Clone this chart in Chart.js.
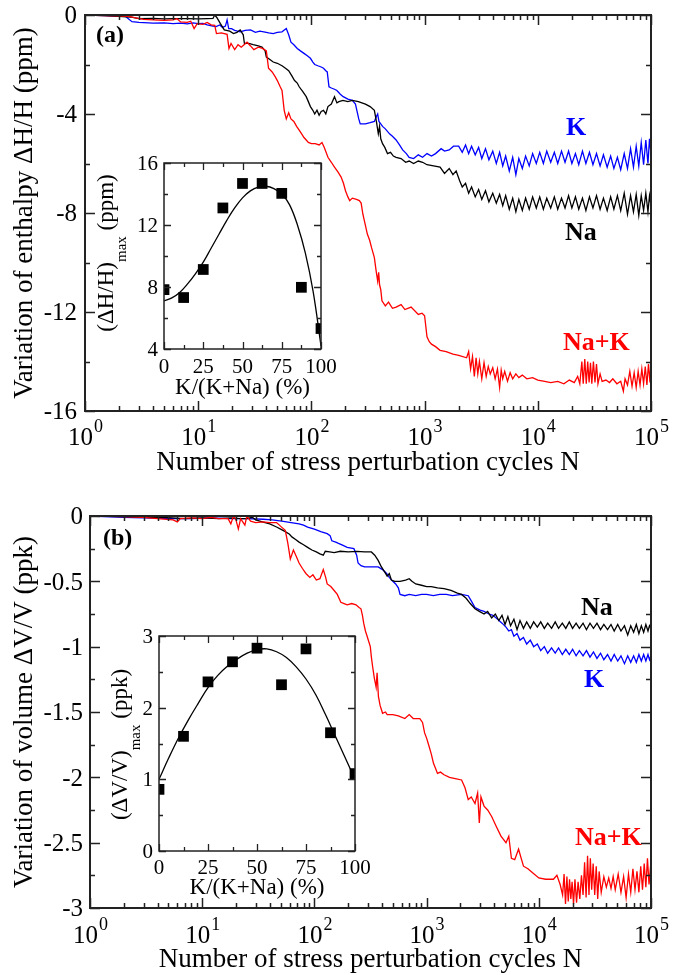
<!DOCTYPE html>
<html><head><meta charset="utf-8">
<script src="https://cdn.jsdelivr.net/npm/chart.js@4.4.1/dist/chart.umd.min.js"></script>
<style>
html,body{margin:0;padding:0;background:#fff;}
#wrap{position:relative;width:689px;height:975px;overflow:hidden;background:#fff;}
canvas{position:absolute;left:0;top:0;width:689px;height:975px;}
.warm{position:absolute;left:-9999px;top:0;font-family:"Liberation Serif";font-size:20px;}
.warmb{position:absolute;left:-9999px;top:30px;font-family:"Liberation Serif";font-weight:bold;font-size:20px;}
</style></head><body>
<span class="warm">Variation 0123456789 ΔH/H</span><span class="warmb">Na+K (a)</span>
<div id="wrap">
<canvas id="mainA" width="689" height="975"></canvas>
<canvas id="mainB" width="689" height="975"></canvas>
<canvas id="insetA" width="689" height="975"></canvas>
<canvas id="insetB" width="689" height="975"></canvas>
</div>
<script>
// ===== DATA =====
const seriesNames = ['Na', 'K', 'Na+K'];
const seriesColors = ['#000000', '#0000ff', '#ff0000'];
const xTickExponents = [0, 1, 2, 3, 4, 5];
const yTicksA = [0, -4, -8, -12, -16];
const yTickLabelsA = ['0', '-4', '-8', '-12', '-16'];
const yTicksB = [0, -0.5, -1, -1.5, -2, -2.5, -3];
const yTickLabelsB = ['0', '-0.5', '-1', '-1.5', '-2', '-2.5', '-3'];
const insetXTicks = [0, 25, 50, 75, 100];
const insetYTicksA = [4, 8, 12, 16];
const insetYTicksB = [0, 1, 2, 3];

// Panel (a): enthalpy variation (ppm) vs N
const enthalpyNa = [[1,0],[1.5,-0.02],[2,-0.05],[2.5,-0.08],[3,-0.15],[4,-0.14],[5,-0.16],[6,-0.15],[8,-0.15],[10,-0.16],[12,-0.15],[13.5,-0.14],[14,0.0],[14.6,-0.1],[15.7,-0.35],[17,-0.6],[19,-0.65],[20.5,-0.75],[22,-0.7],[23.5,-0.6],[25,-0.8],[25.6,-1.15],[28,-1.15],[30.6,-1.2],[34,-1.25],[36.6,-1.3],[39,-1.45],[40,-1.7],[43,-1.8],[46,-1.9],[50,-1.95],[55,-2.05],[59,-2.15],[63,-2.25],[67,-2.45],[71,-2.65],[75,-2.75],[78,-2.9],[84,-3.1],[90,-3.3],[94,-3.5],[98,-3.7],[103,-3.85],[107,-4.0],[112,-3.85],[117,-4.05],[122,-3.9],[128,-3.85],[134,-4.0],[140,-3.7],[150,-3.6],[160,-3.3],[168,-3.55],[175,-3.5],[190,-3.45],[210,-3.5],[230,-3.45],[260,-3.5],[300,-3.6],[330,-3.7],[360,-3.85],[375,-4.3],[390,-4.8],[400,-4.5],[410,-5.0],[425,-5.2],[445,-5.35],[470,-5.6],[500,-5.55],[530,-5.7],[560,-5.75],[620,-5.8],[680,-5.95],[730,-5.9],[800,-6.0],[880,-5.9],[960,-5.95],[1050,-6.05],[1200,-6.1],[1370,-6.15],[1500,-6.4],[1650,-6.2],[1780,-6.45],[1900,-6.3],[2040,-6.7],[2150,-6.95],[2300,-6.8],[2450,-7.2],[2600,-6.95],[2800,-7.35],[3000,-7.05],[3200,-7.45],[3450,-7.1],[3700,-7.55],[4000,-7.2],[4300,-7.6],[4600,-7.25],[4900,-7.7],[5200,-7.3],[5600,-7.85],[6000,-7.4],[6400,-7.95],[6800,-7.45],[7300,-7.9],[7800,-7.4],[8400,-7.85],[9000,-7.35],[9700,-7.8],[10400,-7.35],[11200,-7.85],[12000,-7.4],[13000,-7.8],[14000,-7.35],[15000,-7.85],[16200,-7.4],[17400,-7.8],[18700,-7.3],[20000,-7.8],[21500,-7.35],[23000,-7.85],[24800,-7.4],[26600,-7.9],[28600,-7.35],[30700,-7.8],[33000,-7.3],[35500,-7.85],[38000,-7.4],[41000,-7.9],[44000,-7.35],[47000,-7.85],[50500,-7.3],[54000,-7.9],[58000,-7.2],[62000,-8.05],[66000,-7.3],[70000,-7.95],[74000,-7.25],[78000,-8.1],[82000,-7.3],[86000,-7.9],[90000,-7.2],[94000,-7.95],[97000,-7.3],[100000,-7.7]];

const enthalpyK = [[1,0],[1.5,-0.02],[2,-0.05],[2.2,0.0],[2.6,-0.27],[3,-0.3],[4,-0.33],[5,-0.32],[6,-0.35],[7,-0.33],[8,-0.36],[9,-0.32],[10,-0.35],[11,-0.34],[12,-0.4],[13.5,-0.45],[14.4,-0.47],[15.5,-0.4],[16.4,-0.5],[17.4,-0.45],[18,-0.2],[18.6,-0.55],[19.7,-0.55],[21,-0.62],[23.5,-0.68],[26,-0.62],[29,-0.6],[32,-0.7],[35,-0.65],[38,-0.68],[42,-0.72],[46,-0.75],[50,-0.7],[55,-0.68],[58,-0.6],[60,-0.55],[63,-0.8],[66,-1.1],[70,-1.2],[75,-1.35],[80,-1.45],[86,-1.55],[92,-1.65],[98,-1.75],[103,-1.9],[107,-2.0],[114,-2.05],[122,-2.1],[128,-2.15],[134,-2.25],[138,-2.3],[143,-2.9],[150,-2.95],[160,-3.0],[168,-3.05],[180,-3.2],[191,-3.3],[210,-3.4],[230,-3.45],[245,-3.6],[252,-3.85],[262,-4.2],[270,-4.4],[285,-4.4],[300,-4.4],[330,-4.35],[360,-4.3],[375,-4.1],[385,-4.0],[395,-4.3],[410,-4.4],[425,-4.5],[450,-4.6],[490,-4.8],[520,-4.9],[560,-5.05],[600,-5.25],[640,-5.45],[690,-5.6],[730,-5.75],[800,-5.8],[880,-5.65],[960,-5.75],[1050,-5.6],[1150,-5.7],[1250,-5.6],[1400,-5.4],[1500,-5.5],[1650,-5.45],[1800,-5.3],[2000,-5.3],[2150,-5.55],[2300,-5.25],[2450,-5.6],[2600,-5.3],[2800,-5.65],[3000,-5.35],[3200,-5.8],[3450,-5.4],[3700,-5.85],[4000,-5.5],[4300,-6.0],[4600,-5.55],[4900,-6.1],[5200,-5.7],[5600,-6.3],[6000,-5.75],[6400,-6.45],[6800,-5.8],[7300,-6.2],[7800,-5.7],[8400,-6.1],[9000,-5.6],[9700,-6.0],[10400,-5.55],[11200,-6.0],[12000,-5.5],[13000,-5.95],[14000,-5.55],[15000,-6.0],[16200,-5.5],[17400,-5.95],[18700,-5.5],[20000,-6.0],[21500,-5.6],[23000,-6.05],[24800,-5.5],[26600,-6.0],[28600,-5.55],[30700,-6.05],[33000,-5.6],[35500,-6.1],[38000,-5.65],[41000,-6.15],[44000,-5.7],[47000,-6.2],[50500,-5.75],[54000,-6.25],[58000,-5.6],[62000,-6.2],[66000,-5.4],[70000,-6.15],[74000,-5.3],[78000,-6.1],[82000,-5.15],[86000,-6.05],[90000,-5.05],[94000,-6.0],[97000,-5.0],[100000,-5.6]];

const enthalpyNaK = [[1,0],[1.5,-0.02],[2,-0.03],[2.4,-0.05],[2.8,-0.12],[3.3,-0.18],[4,-0.2],[5,-0.22],[6,-0.2],[6.5,-0.15],[7,-0.28],[8,-0.3],[8.6,-0.25],[9.2,-0.55],[9.8,-0.35],[11,-0.38],[12,-0.3],[13,-0.4],[14,-0.42],[14.5,-0.75],[16,-0.72],[18,-0.78],[18.7,-1.35],[19.5,-1.15],[21,-1.4],[22.5,-1.2],[24,-1.3],[27,-1.1],[29,-1.25],[31,-1.4],[34,-1.3],[37,-1.35],[40,-1.45],[41.8,-2.15],[45,-2.3],[48,-2.5],[50,-2.65],[53,-2.9],[55,-3.05],[57.5,-3.85],[60,-4.2],[63,-3.95],[66,-4.2],[70,-4.3],[74,-4.5],[78,-4.65],[82,-4.8],[86,-4.95],[90,-5.05],[94,-5.15],[100,-5.2],[108,-5.2],[117,-5.25],[124,-5.15],[130,-5.35],[140,-5.75],[150,-5.95],[160,-6.15],[172,-6.35],[183,-6.55],[192,-6.8],[200,-7.1],[210,-7.35],[218,-7.5],[230,-7.4],[250,-7.45],[265,-7.5],[275,-7.6],[285,-8.05],[300,-8.5],[312,-8.85],[327,-9.1],[340,-9.4],[360,-9.8],[372,-10.3],[385,-10.75],[393,-10.4],[400,-10.9],[410,-11.1],[420,-11.55],[450,-11.75],[480,-11.6],[520,-11.85],[560,-11.8],[620,-11.7],[670,-11.9],[760,-11.8],[880,-12.1],[950,-12.05],[1000,-12.15],[1050,-13.0],[1100,-13.2],[1150,-13.3],[1250,-13.4],[1370,-13.55],[1550,-13.6],[1780,-13.7],[2000,-13.75],[2350,-13.85],[2450,-13.6],[2550,-14.3],[2650,-13.8],[2750,-14.6],[2850,-13.85],[2950,-14.5],[3050,-14.0],[3200,-14.7],[3350,-14.05],[3500,-14.6],[3650,-14.2],[3800,-14.5],[4000,-14.25],[4200,-14.7],[4400,-14.3],[4600,-15.05],[4750,-14.35],[4900,-14.7],[5100,-14.4],[5400,-14.8],[5700,-14.45],[6000,-14.7],[6400,-14.5],[6800,-14.65],[7300,-14.55],[8000,-14.7],[9000,-14.65],[10000,-14.75],[11500,-14.8],[13000,-14.85],[15000,-14.8],[17000,-14.9],[19000,-14.75],[21000,-14.85],[22500,-14.6],[23500,-14.9],[24500,-14.0],[25200,-14.9],[26000,-13.9],[26800,-14.9],[27600,-14.0],[28400,-14.85],[29200,-14.05],[30000,-14.9],[31000,-14.0],[32000,-14.85],[33000,-14.1],[34000,-14.9],[35500,-14.5],[37000,-14.8],[40000,-14.75],[43000,-14.85],[46000,-14.7],[50000,-14.9],[54000,-14.8],[57000,-15.2],[59000,-14.7],[62000,-14.95],[65000,-14.4],[68000,-15.0],[71000,-14.45],[74000,-15.05],[77000,-14.4],[80000,-14.95],[83000,-14.3],[86000,-14.9],[89000,-14.2],[92000,-14.95],[95000,-14.1],[98000,-14.85],[100000,-14.0]];

// Panel (b): volume variation (ppk) vs N
const volumeNa = [[1,0],[2,-0.005],[3,-0.01],[5,-0.012],[7,-0.02],[10,-0.015],[14,-0.02],[18,-0.015],[22,-0.02],[25,-0.02],[28,-0.01],[30,-0.03],[35,-0.046],[40,-0.06],[46,-0.084],[50,-0.1],[55,-0.12],[60,-0.14],[63,-0.16],[68,-0.18],[73,-0.2],[80,-0.22],[87,-0.24],[95,-0.26],[104,-0.275],[112,-0.29],[120,-0.3],[125,-0.27],[137,-0.275],[150,-0.28],[170,-0.27],[200,-0.275],[240,-0.27],[280,-0.275],[322,-0.275],[345,-0.3],[370,-0.34],[390,-0.38],[410,-0.41],[424,-0.43],[445,-0.46],[465,-0.44],[485,-0.49],[520,-0.5],[580,-0.5],[650,-0.49],[700,-0.48],[740,-0.5],[800,-0.52],[900,-0.53],[1000,-0.54],[1100,-0.54],[1250,-0.55],[1430,-0.555],[1650,-0.57],[1880,-0.59],[2050,-0.6],[2250,-0.63],[2450,-0.67],[2700,-0.71],[2950,-0.73],[3250,-0.75],[3500,-0.73],[3800,-0.78],[4100,-0.75],[4400,-0.8],[4700,-0.76],[5000,-0.83],[5300,-0.77],[5600,-0.84],[6000,-0.79],[6400,-0.87],[6800,-0.8],[7300,-0.86],[7800,-0.81],[8400,-0.86],[9000,-0.81],[9700,-0.85],[10400,-0.81],[11200,-0.86],[12000,-0.82],[13000,-0.86],[14000,-0.81],[15000,-0.86],[16200,-0.82],[17400,-0.86],[18700,-0.81],[20000,-0.86],[21500,-0.82],[23000,-0.86],[24800,-0.82],[26600,-0.87],[28600,-0.82],[30700,-0.86],[33000,-0.82],[35500,-0.87],[38000,-0.83],[41000,-0.87],[44000,-0.83],[47000,-0.88],[50500,-0.83],[54000,-0.88],[58000,-0.84],[62000,-0.91],[66000,-0.84],[70000,-0.89],[74000,-0.83],[78000,-0.9],[82000,-0.84],[86000,-0.89],[90000,-0.83],[94000,-0.88],[97000,-0.84],[100000,-0.86]];

const volumeK = [[1,0],[2,-0.01],[3,-0.015],[5,-0.02],[8,-0.02],[12,-0.015],[18,-0.02],[25,-0.02],[35,-0.025],[42,-0.03],[51,-0.04],[62,-0.05],[73,-0.06],[80,-0.07],[87,-0.085],[100,-0.1],[114,-0.12],[130,-0.135],[138,-0.15],[143,-0.19],[155,-0.2],[164,-0.21],[180,-0.225],[196,-0.24],[225,-0.25],[238,-0.3],[245,-0.36],[260,-0.38],[280,-0.39],[320,-0.39],[370,-0.39],[405,-0.41],[440,-0.44],[465,-0.47],[500,-0.5],[530,-0.52],[560,-0.55],[580,-0.6],[640,-0.61],[700,-0.6],[800,-0.61],[900,-0.6],[1000,-0.6],[1150,-0.61],[1310,-0.6],[1500,-0.6],[1700,-0.61],[2050,-0.6],[2350,-0.61],[2500,-0.65],[2700,-0.7],[3000,-0.72],[3250,-0.73],[3600,-0.75],[3900,-0.76],[4300,-0.79],[4700,-0.82],[5100,-0.85],[5400,-0.88],[5700,-0.87],[6000,-0.92],[6400,-0.9],[6800,-0.95],[7300,-0.93],[7800,-0.98],[8400,-0.95],[9000,-1.0],[9700,-0.98],[10400,-1.03],[11200,-1.0],[12000,-1.05],[13000,-1.01],[14000,-1.05],[15000,-1.01],[16200,-1.06],[17400,-1.02],[18700,-1.06],[20000,-1.02],[21500,-1.07],[23000,-1.03],[24800,-1.07],[26600,-1.03],[28600,-1.08],[30700,-1.04],[33000,-1.09],[35500,-1.05],[38000,-1.1],[41000,-1.06],[44000,-1.11],[47000,-1.06],[50500,-1.11],[54000,-1.07],[58000,-1.13],[62000,-1.07],[66000,-1.12],[70000,-1.07],[74000,-1.12],[78000,-1.06],[82000,-1.11],[86000,-1.06],[90000,-1.11],[94000,-1.06],[97000,-1.1],[100000,-1.07]];

const volumeNaK = [[1,0],[2,-0.005],[3,-0.01],[4,-0.02],[5.5,-0.03],[6,-0.045],[6.4,-0.02],[8,-0.015],[10,-0.02],[12,-0.01],[14,-0.02],[17,-0.02],[18,-0.06],[19,0.0],[20,-0.03],[21,-0.1],[22,-0.02],[24,-0.07],[25,0.0],[27,-0.04],[30,-0.05],[35,-0.045],[40,-0.05],[46,-0.05],[51,-0.085],[55,-0.11],[58,-0.21],[61,-0.33],[65,-0.26],[69,-0.31],[73,-0.36],[78,-0.4],[84,-0.44],[91,-0.47],[97,-0.45],[104,-0.49],[112,-0.48],[120,-0.41],[126,-0.47],[130,-0.52],[140,-0.54],[150,-0.57],[160,-0.6],[172,-0.66],[184,-0.67],[196,-0.68],[215,-0.67],[235,-0.68],[250,-0.7],[260,-0.71],[268,-0.76],[275,-0.82],[285,-0.88],[295,-0.92],[305,-0.96],[315,-1.0],[322,-1.08],[330,-1.15],[342,-1.24],[355,-1.31],[362,-1.2],[372,-1.38],[385,-1.45],[405,-1.51],[430,-1.5],[445,-1.52],[500,-1.52],[560,-1.53],[640,-1.55],[700,-1.52],[760,-1.55],[870,-1.55],[920,-1.58],[960,-1.66],[1000,-1.7],[1050,-1.76],[1100,-1.82],[1150,-1.89],[1200,-1.93],[1250,-1.97],[1330,-1.96],[1430,-1.98],[1600,-2.0],[1800,-2.01],[2050,-2.02],[2200,-2.08],[2350,-2.17],[2500,-2.15],[2700,-2.2],[2850,-2.12],[2950,-2.35],[3050,-2.15],[3250,-2.22],[3500,-2.25],[3800,-2.3],[4200,-2.38],[4600,-2.45],[5100,-2.5],[5400,-2.45],[5700,-2.62],[6100,-2.63],[6600,-2.55],[7300,-2.68],[8000,-2.7],[8800,-2.73],[10000,-2.77],[11500,-2.78],[13500,-2.78],[14500,-2.75],[15500,-2.82],[16300,-2.9],[16800,-2.74],[17300,-2.97],[17800,-2.76],[18300,-2.95],[18800,-2.78],[19300,-2.93],[19800,-2.8],[20400,-2.97],[21000,-2.78],[21700,-2.96],[22400,-2.8],[23200,-2.93],[24000,-2.75],[24800,-2.9],[25600,-2.65],[26400,-2.92],[27200,-2.6],[28000,-2.9],[28800,-2.62],[29600,-2.86],[30500,-2.66],[31500,-2.9],[32500,-2.68],[33500,-2.93],[34500,-2.72],[36000,-2.88],[38000,-2.76],[40000,-2.84],[42000,-2.77],[44000,-2.85],[46000,-2.76],[48000,-2.86],[51000,-2.74],[54000,-2.88],[57000,-2.76],[60000,-2.92],[63000,-2.74],[66000,-2.88],[69000,-2.7],[72000,-2.86],[75000,-2.72],[78000,-2.88],[81000,-2.68],[84000,-2.86],[87000,-2.66],[90000,-2.84],[93000,-2.62],[96000,-2.82],[100000,-2.64]];

// Insets
const kFraction = [0, 12.5, 25, 37.5, 50, 62.5, 75, 87.5, 100];
const dHmax = [7.83, 7.32, 9.13, 13.1, 14.68, 14.68, 14.04, 7.98, 5.32];
const dVmax = [0.86, 1.6, 2.36, 2.64, 2.83, 2.32, 2.82, 1.65, 1.08];
const fitX = [0, 5, 10, 15, 20, 25, 30, 35, 40, 45, 50, 55, 60, 65, 70, 75, 80, 85, 90, 95, 100];
const fitH = [7.1, 7.3, 7.65, 8.2, 8.85, 9.6, 10.5, 11.4, 12.3, 13.1, 13.75, 14.2, 14.45, 14.5, 14.35, 14.0, 13.3, 12.0, 10.2, 7.7, 4.2];
const fitV = [1.0, 1.3, 1.58, 1.83, 2.06, 2.28, 2.45, 2.58, 2.68, 2.76, 2.81, 2.82, 2.78, 2.7, 2.57, 2.4, 2.18, 1.9, 1.6, 1.3, 1.0];

// ===== RENDERING =====
const FONT = '"Liberation Serif", "DejaVu Serif", "Times New Roman", Times, serif';
const toXY = arr => arr.map(p => ({x: p[0], y: p[1]}));
const zipXY = (xs, ys) => xs.map((x, i) => ({x: x, y: ys[i]}));

function logMinor() {
  const out = [];
  for (let e = 0; e < 5; e++) for (let m = 2; m <= 9; m++) out.push(m * Math.pow(10, e));
  return out;
}

function framePlugin(o) {
  return {
    id: 'frame',
    afterDatasetsDraw(chart) {
      const c = chart.ctx, a = chart.chartArea, xs = chart.scales.x, ys = chart.scales.y;
      c.save();
      c.strokeStyle = '#222';
      c.lineWidth = o.tickW;
      c.beginPath();
      const tickX = (list, len) => list.forEach(v => {
        const p = Math.round(xs.getPixelForValue(v)) + 0.5;
        c.moveTo(p, a.bottom); c.lineTo(p, a.bottom - len);
        c.moveTo(p, a.top); c.lineTo(p, a.top + len);
      });
      const tickY = (list, len) => list.forEach(v => {
        const p = Math.round(ys.getPixelForValue(v)) + 0.5;
        c.moveTo(a.left, p); c.lineTo(a.left + len, p);
        c.moveTo(a.right, p); c.lineTo(a.right - len, p);
      });
      tickX(o.xMajor, o.majLen); tickX(o.xMinor, o.minLen);
      tickY(o.yMajor, o.majLen); tickY(o.yMinor, o.minLen);
      c.stroke();
      c.lineWidth = o.boxW;
      c.strokeRect(a.left, a.top, a.right - a.left, a.bottom - a.top);
      c.fillStyle = '#000';
      c.font = o.tickFont + 'px ' + FONT;
      c.textAlign = 'right'; c.textBaseline = 'alphabetic';
      o.yMajor.forEach((v, i) => c.fillText(o.yLabels[i], a.left - o.yLabGap, ys.getPixelForValue(v) + o.tickFont * 0.33));
      if (o.logX) {
        o.xMajor.forEach((v, i) => {
          const base = '10', sup = String(xTickExponents[i]);
          c.font = o.tickFont + 'px ' + FONT;
          const w1 = c.measureText(base).width;
          c.font = o.supFont + 'px ' + FONT;
          const w2 = c.measureText(sup).width;
          const px = xs.getPixelForValue(v);
          const x0 = px - (w1 + w2) / 2;
          c.textAlign = 'left';
          c.font = o.tickFont + 'px ' + FONT;
          c.fillText(base, x0, a.bottom + o.xLabOff);
          c.font = o.supFont + 'px ' + FONT;
          c.fillText(sup, x0 + w1 + 1, a.bottom + o.xLabOff - o.supRaise);
        });
      } else {
        c.textAlign = 'center';
        o.xMajor.forEach((v, i) => c.fillText(o.xLabels[i], xs.getPixelForValue(v), a.bottom + o.xLabOff));
      }
      c.font = o.titleFont + 'px ' + FONT;
      c.textAlign = 'center';
      c.fillText(o.xTitle, (a.left + a.right) / 2, a.bottom + o.xTitleOff);
      c.save();
      const cy = (a.top + a.bottom) / 2 + (o.yTitleShift || 0);
      c.translate(o.yTitleX, cy);
      c.rotate(-Math.PI / 2);
      c.textAlign = 'left';
      const parts = o.yTitleParts;
      let total = 0;
      parts.forEach(pt => { c.font = (pt.sub ? o.subFont : o.titleFont) + 'px ' + FONT; total += c.measureText(pt.t).width; });
      let x = -total / 2;
      parts.forEach(pt => {
        c.font = (pt.sub ? o.subFont : o.titleFont) + 'px ' + FONT;
        c.fillText(pt.t, x, pt.sub ? o.subDrop : 0);
        x += c.measureText(pt.t).width;
      });
      c.restore();
      (o.texts || []).forEach(t => {
        c.font = t.font;
        c.fillStyle = t.color;
        c.textAlign = 'left';
        c.fillText(t.text, t.x, t.y);
      });
      c.restore();
    }
  };
}

function mainChart(id, series, yMin, yMax, pad, frameOpts) {
  const datasets = series.map((s, i) => ({
    label: seriesNames[i],
    data: toXY(s),
    borderColor: seriesColors[i],
    borderWidth: 1.3,
    pointRadius: 0,
    tension: 0,
    fill: false
  }));
  return new Chart(document.getElementById(id), {
    type: 'line',
    data: { datasets: [datasets[2], datasets[0], datasets[1]] },
    options: {
      responsive: false, animation: false, devicePixelRatio: 1,
      parsing: false, normalized: true,
      layout: { padding: pad },
      plugins: { legend: { display: false }, tooltip: { enabled: false } },
      scales: {
        x: { type: 'logarithmic', min: 1, max: 100000, display: false },
        y: { type: 'linear', min: yMin, max: yMax, display: false }
      }
    },
    plugins: [framePlugin(frameOpts)]
  });
}

function insetChart(id, vals, fit, yMin, yMax, pad, frameOpts) {
  return new Chart(document.getElementById(id), {
    type: 'scatter',
    data: { datasets: [
      { label: 'fit', data: zipXY(fitX, fit), showLine: true, borderColor: '#000', borderWidth: 1.3, pointRadius: 0, tension: 0.4 },
      { label: 'max', data: zipXY(kFraction, vals), pointStyle: 'rect', pointRadius: 7.6, backgroundColor: '#000', borderColor: '#000', borderWidth: 0, showLine: false }
    ]},
    options: {
      responsive: false, animation: false, devicePixelRatio: 1,
      layout: { padding: pad },
      plugins: { legend: { display: false }, tooltip: { enabled: false } },
      scales: {
        x: { type: 'linear', min: 0, max: 100, display: false },
        y: { type: 'linear', min: yMin, max: yMax, display: false }
      }
    },
    plugins: [framePlugin(frameOpts)]
  });
}

function render() {
  const bold = 'bold 26px ' + FONT;
  const powers = xTickExponents.map(e => Math.pow(10, e));

  mainChart('mainA', [enthalpyNa, enthalpyK, enthalpyNaK], -16, 0,
    { left: 85, top: 15, right: 38, bottom: 564 },
    { tickW: 1.5, boxW: 2, majLen: 10, minLen: 5,
      xMajor: powers, xMinor: logMinor(), yMajor: yTicksA, yMinor: [-2, -6, -10, -14], yLabels: yTickLabelsA,
      tickFont: 25, supFont: 18, supRaise: 13, yLabGap: 8, logX: true, xLabOff: 34,
      titleFont: 27, subFont: 17, subDrop: 0, xTitle: 'Number of stress perturbation cycles N', xTitleOff: 59,
      yTitleX: 32, yTitleParts: [{ t: 'Variation of enthalpy \u0394H/H (ppm)' }],
      texts: [
        { text: '(a)', x: 96, y: 42, font: 'bold 24px ' + FONT, color: '#000' },
        { text: seriesNames[1], x: 566, y: 135, font: bold, color: seriesColors[1] },
        { text: seriesNames[0], x: 565, y: 240, font: bold, color: seriesColors[0] },
        { text: seriesNames[2], x: 563, y: 350, font: bold, color: seriesColors[2] }
      ] });

  mainChart('mainB', [volumeNa, volumeK, volumeNaK], -3, 0,
    { left: 90, top: 516, right: 38, bottom: 67 },
    { tickW: 1.5, boxW: 2, majLen: 10, minLen: 5,
      xMajor: powers, xMinor: logMinor(), yMajor: yTicksB, yMinor: [-0.25, -0.75, -1.25, -1.75, -2.25, -2.75], yLabels: yTickLabelsB,
      tickFont: 25, supFont: 18, supRaise: 13, yLabGap: 7, logX: true, xLabOff: 35,
      titleFont: 27, subFont: 17, subDrop: 0, xTitle: 'Number of stress perturbation cycles N', xTitleOff: 59,
      yTitleX: 32, yTitleParts: [{ t: 'Variation of volume \u0394V/V (ppk)' }],
      texts: [
        { text: '(b)', x: 103, y: 545, font: 'bold 24px ' + FONT, color: '#000' },
        { text: seriesNames[0], x: 581, y: 615, font: bold, color: seriesColors[0] },
        { text: seriesNames[1], x: 584, y: 687, font: bold, color: seriesColors[1] },
        { text: seriesNames[2], x: 575, y: 845, font: bold, color: seriesColors[2] }
      ] });

  insetChart('insetA', dHmax, fitH, 4, 16,
    { left: 164, top: 163, right: 689 - 321, bottom: 975 - 349 },
    { tickW: 1.3, boxW: 1.5, majLen: 7, minLen: 4,
      xMajor: insetXTicks, xMinor: [12.5, 37.5, 62.5, 87.5], xLabels: insetXTicks.map(String),
      yMajor: insetYTicksA, yMinor: [6, 10, 14], yLabels: insetYTicksA.map(String),
      tickFont: 21, yLabGap: 6, logX: false, xLabOff: 24,
      titleFont: 23, subFont: 15, subDrop: 13, xTitle: 'K/(K+Na) (%)', xTitleOff: 45,
      yTitleX: 113, yTitleShift: -3, yTitleParts: [{ t: '(\u0394H/H)' }, { t: 'max', sub: true }, { t: ' (ppm)' }] });

  insetChart('insetB', dVmax, fitV, 0, 3,
    { left: 159, top: 636, right: 689 - 355, bottom: 975 - 851 },
    { tickW: 1.3, boxW: 1.5, majLen: 7, minLen: 4,
      xMajor: insetXTicks, xMinor: [12.5, 37.5, 62.5, 87.5], xLabels: insetXTicks.map(String),
      yMajor: insetYTicksB, yMinor: [0.5, 1.5, 2.5], yLabels: insetYTicksB.map(String),
      tickFont: 21, yLabGap: 6, logX: false, xLabOff: 23,
      titleFont: 23, subFont: 15, subDrop: 13, xTitle: 'K/(K+Na) (%)', xTitleOff: 43,
      yTitleX: 127, yTitleShift: 1, yTitleParts: [{ t: '(\u0394V/V)' }, { t: 'max', sub: true }, { t: ' (ppk)' }] });
}

let done = false;
function go() { if (!done) { done = true; render(); } }
if (document.fonts && document.fonts.load) {
  Promise.all([
    document.fonts.load('20px "Liberation Serif"'),
    document.fonts.load('bold 20px "Liberation Serif"')
  ]).then(go, go);
  setTimeout(go, 300);
} else { go(); }
</script>
</body></html>
